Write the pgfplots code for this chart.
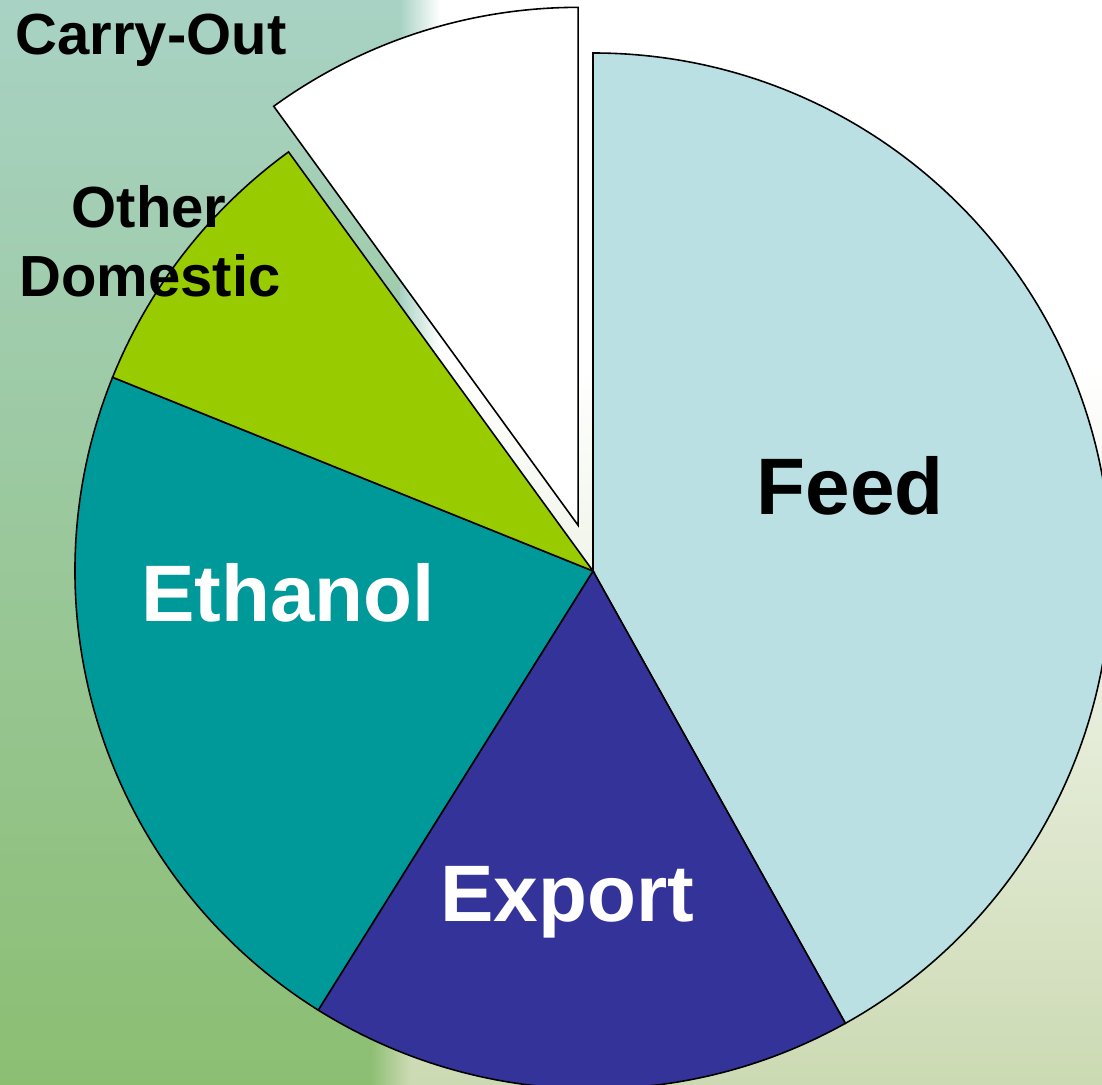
\documentclass[border=0pt]{standalone}
\usepackage{pgfplots}
\pgfplotsset{compat=1.18}
\usepackage{fontspec}
\setmainfont{Liberation Sans}

\definecolor{feedc}{HTML}{BAE0E3}
\definecolor{exportc}{HTML}{333399}
\definecolor{ethanolc}{HTML}{009999}
\definecolor{otherc}{HTML}{99CC00}
\definecolor{bgteal}{HTML}{A8D2C4}
\definecolor{bggreen}{HTML}{8CBE72}
\definecolor{bgsand}{HTML}{CCDAB3}

\begin{document}
\begin{tikzpicture}
% shares of use (percent), clockwise from 12 o'clock
\def\vFeed{41.9}
\def\vExport{17.0}
\def\vEthanol{22.2}
\def\vOther{8.9}
\def\vCarry{10.0}
\pgfmathsetmacro\aA{90}
\pgfmathsetmacro\aB{\aA-3.6*\vFeed}
\pgfmathsetmacro\aC{\aB-3.6*\vExport}
\pgfmathsetmacro\aD{\aC-3.6*\vEthanol}
\pgfmathsetmacro\aE{\aD-3.6*\vOther}
\pgfmathsetmacro\aF{\aE-3.6*\vCarry}
% carry-out slice is pulled out along its middle
\pgfmathsetmacro\aMid{(\aE+\aF)/2}
\pgfmathsetmacro\cxo{593+48*cos(\aMid)}
\pgfmathsetmacro\cyo{514+48*sin(\aMid)}
\def\R{5.18cm}
\begin{axis}[
    width=11.02cm, height=10.85cm, scale only axis,
    xmin=0, xmax=1102, ymin=0, ymax=1085,
    hide axis, clip=true]
% slide background
\fill[top color=white, bottom color=bgsand] (axis cs:380,0) rectangle (axis cs:1102,720);
\fill[top color=bgteal, bottom color=bggreen] (axis cs:0,0) rectangle (axis cs:400,1085);
\fill[left color=bgteal, right color=white] (axis cs:400,420) rectangle (axis cs:440,1085);
\fill[left color=bggreen, right color=bgsand] (axis cs:370,0) rectangle (axis cs:410,420);

% slices
\filldraw[fill=feedc, draw=black, line width=0.45pt] (axis cs:593,514) -- ++(\aA:\R) arc[start angle=\aA, end angle=\aB, radius=\R] -- cycle;
\filldraw[fill=exportc, draw=black, line width=0.45pt] (axis cs:593,514) -- ++(\aB:\R) arc[start angle=\aB, end angle=\aC, radius=\R] -- cycle;
\filldraw[fill=ethanolc, draw=black, line width=0.45pt] (axis cs:593,514) -- ++(\aC:\R) arc[start angle=\aC, end angle=\aD, radius=\R] -- cycle;
\filldraw[fill=otherc, draw=black, line width=0.45pt] (axis cs:593,514) -- ++(\aD:\R) arc[start angle=\aD, end angle=\aE, radius=\R] -- cycle;
\filldraw[fill=white, draw=black, line width=0.45pt] (axis cs:\cxo,\cyo) -- ++(\aE:\R) arc[start angle=\aE, end angle=\aF, radius=\R] -- cycle;

% labels
\node[anchor=base west, inner sep=0pt, font=\bfseries\fontsize{16.5}{19.8}\selectfont] at (axis cs:15,1030) {Carry-Out};
\node[anchor=base, inner sep=0pt, font=\bfseries\fontsize{16.5}{19.8}\selectfont] at (axis cs:149,857) {Other};
\node[anchor=base, inner sep=0pt, font=\bfseries\fontsize{16.5}{19.8}\selectfont] at (axis cs:150,788) {Domestic};
\node[anchor=base, inner sep=0pt, font=\bfseries\fontsize{22.8}{27}\selectfont] at (axis cs:850,570) {Feed};
\node[anchor=base, inner sep=0pt, text=white, font=\bfseries\fontsize{22.8}{27}\selectfont] at (axis cs:288,463) {Ethanol};
\node[anchor=base, inner sep=0pt, text=white, font=\bfseries\fontsize{22.8}{27}\selectfont] at (axis cs:567,163) {Export};
\end{axis}
\pgfresetboundingbox
\useasboundingbox (current axis.south west) rectangle (current axis.north east);
\end{tikzpicture}
\end{document}
